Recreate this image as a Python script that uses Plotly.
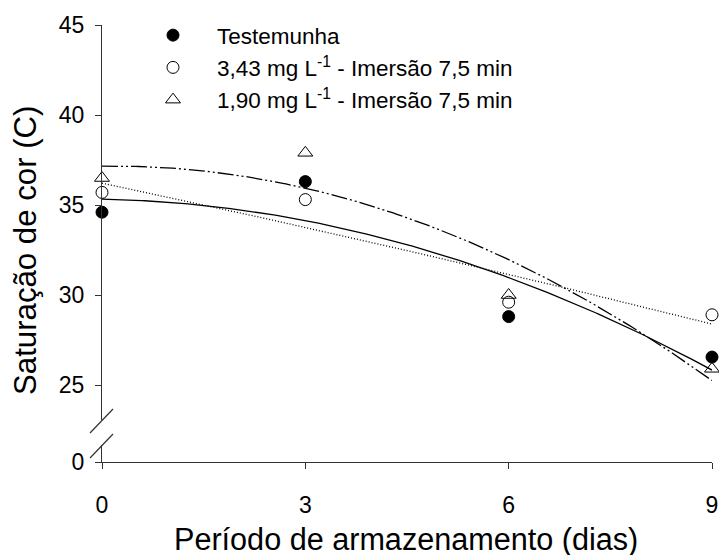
import numpy as np
import plotly.graph_objects as go

# Storage period (days)
dias = [0, 3, 6, 9]

# Colour saturation (C) per treatment
testemunha = [34.6, 36.3, 28.8, 26.55]
trat_343 = [35.7, 35.3, 29.6, 28.9]
trat_190 = [36.5, 37.9, 30.0, 25.9]

nomes = [
    "Testemunha",
    "3,43 mg L<sup>-1</sup> - Imersão 7,5 min",
    "1,90 mg L<sup>-1</sup> - Imersão 7,5 min",
]
y_ticks_top = [25, 30, 35, 40, 45]
y_ticks_bottom = [0]
x_ticks = [0, 3, 6, 9]

W, H = 719, 555
ML, MR, MT, MB = 102, 7, 25, 93
PW, PH = W - ML - MR, H - MT - MB

FONT = "Liberation Sans, Arial, sans-serif"
AX = "#333333"


def px_x(p):
    return (p - ML) / PW


def px_y(p):
    return (H - MB - p) / PH


fig = go.Figure()

xs = np.linspace(0, 9, 200)
markers = [
    dict(symbol="circle", size=12, color="black", line=dict(color="black", width=1)),
    dict(symbol="circle-open", size=12, color="black", line=dict(color="black", width=1)),
    dict(symbol="triangle-up-open", size=13, color="black", line=dict(color="black", width=1)),
]
dashes = ["solid", "1px,2px", "16px,3px,2px,3px,2px,3px"]
series = [testemunha, trat_343, trat_190]

# quadratic regression curve for every treatment
for ys, dash in zip(series, dashes):
    coef = np.polyfit(dias, ys, 2)
    fig.add_trace(go.Scatter(
        x=xs, y=np.polyval(coef, xs), mode="lines",
        line=dict(color="black", width=1.3, dash=dash),
        showlegend=False, hoverinfo="skip", xaxis="x", yaxis="y",
    ))

for i, (ys, mk) in enumerate(zip(series, markers)):
    fig.add_trace(go.Scatter(
        x=dias, y=ys, mode="markers", marker=mk, name=nomes[i],
        cliponaxis=False, xaxis="x", yaxis="y",
    ))

# empty trace so the lower (0) piece of the broken axis is created
fig.add_trace(go.Scatter(x=[None], y=[None], mode="markers", showlegend=False,
                         hoverinfo="skip", xaxis="x", yaxis="y2"))

tick_font = dict(size=23, family=FONT, color="black")
common_y = dict(
    showline=True, linecolor=AX, linewidth=1.3,
    ticks="outside", ticklen=6, tickcolor=AX, tickwidth=1.3,
    showgrid=False, zeroline=False, tickfont=tick_font, ticklabelstandoff=6,
    anchor="x",
)

# broken y axis: upper piece 25-45, lower piece with 0
top_lo = 45 - (420 - MT) / 18.0
fig.update_layout(
    width=W, height=H,
    margin=dict(l=ML, r=MR, t=MT, b=MB, autoexpand=False),
    paper_bgcolor="white", plot_bgcolor="white",
    font=dict(family=FONT, color="black", size=22),
    xaxis=dict(
        range=[0, 9], tickvals=x_ticks, anchor="y2",
        showline=True, linecolor=AX, linewidth=1.3,
        ticks="outside", ticklen=6, tickcolor=AX, tickwidth=1.3,
        showgrid=False, zeroline=False,
        tickfont=tick_font, ticklabelstandoff=16,
    ),
    yaxis=dict(domain=[px_y(420), 1], range=[top_lo, 45],
               tickvals=y_ticks_top, **common_y),
    yaxis2=dict(domain=[0, px_y(445)], range=[0, (462 - 445) / 18.0],
                tickvals=y_ticks_bottom, **common_y),
    legend=dict(
        x=px_x(129), y=px_y(14), xanchor="left", yanchor="top",
        itemwidth=78,
        font=dict(size=22.5, family=FONT, color="black"),
        bgcolor="rgba(0,0,0,0)", borderwidth=0,
    ),
    showlegend=True,
)

# axis titles
fig.add_annotation(text="Período de armazenamento (dias)", xref="paper", yref="paper",
                   x=px_x(406), y=px_y(520), xanchor="center", yanchor="top",
                   showarrow=False, font=dict(size=30.6, family=FONT, color="black"))
fig.add_annotation(text="Saturação de cor (C)", xref="paper", yref="paper",
                   x=px_x(25), y=px_y(250), xanchor="center", yanchor="middle",
                   textangle=-90, showarrow=False,
                   font=dict(size=31.2, family=FONT, color="black"))

# axis break marks
for (x0, y0, x1, y1) in [(90, 433, 113, 409), (90, 458, 113, 434)]:
    fig.add_shape(type="line", xref="paper", yref="paper",
                  x0=px_x(x0), y0=px_y(y0), x1=px_x(x1), y1=px_y(y1),
                  line=dict(color=AX, width=1.2))

fig.write_html("out.html")
